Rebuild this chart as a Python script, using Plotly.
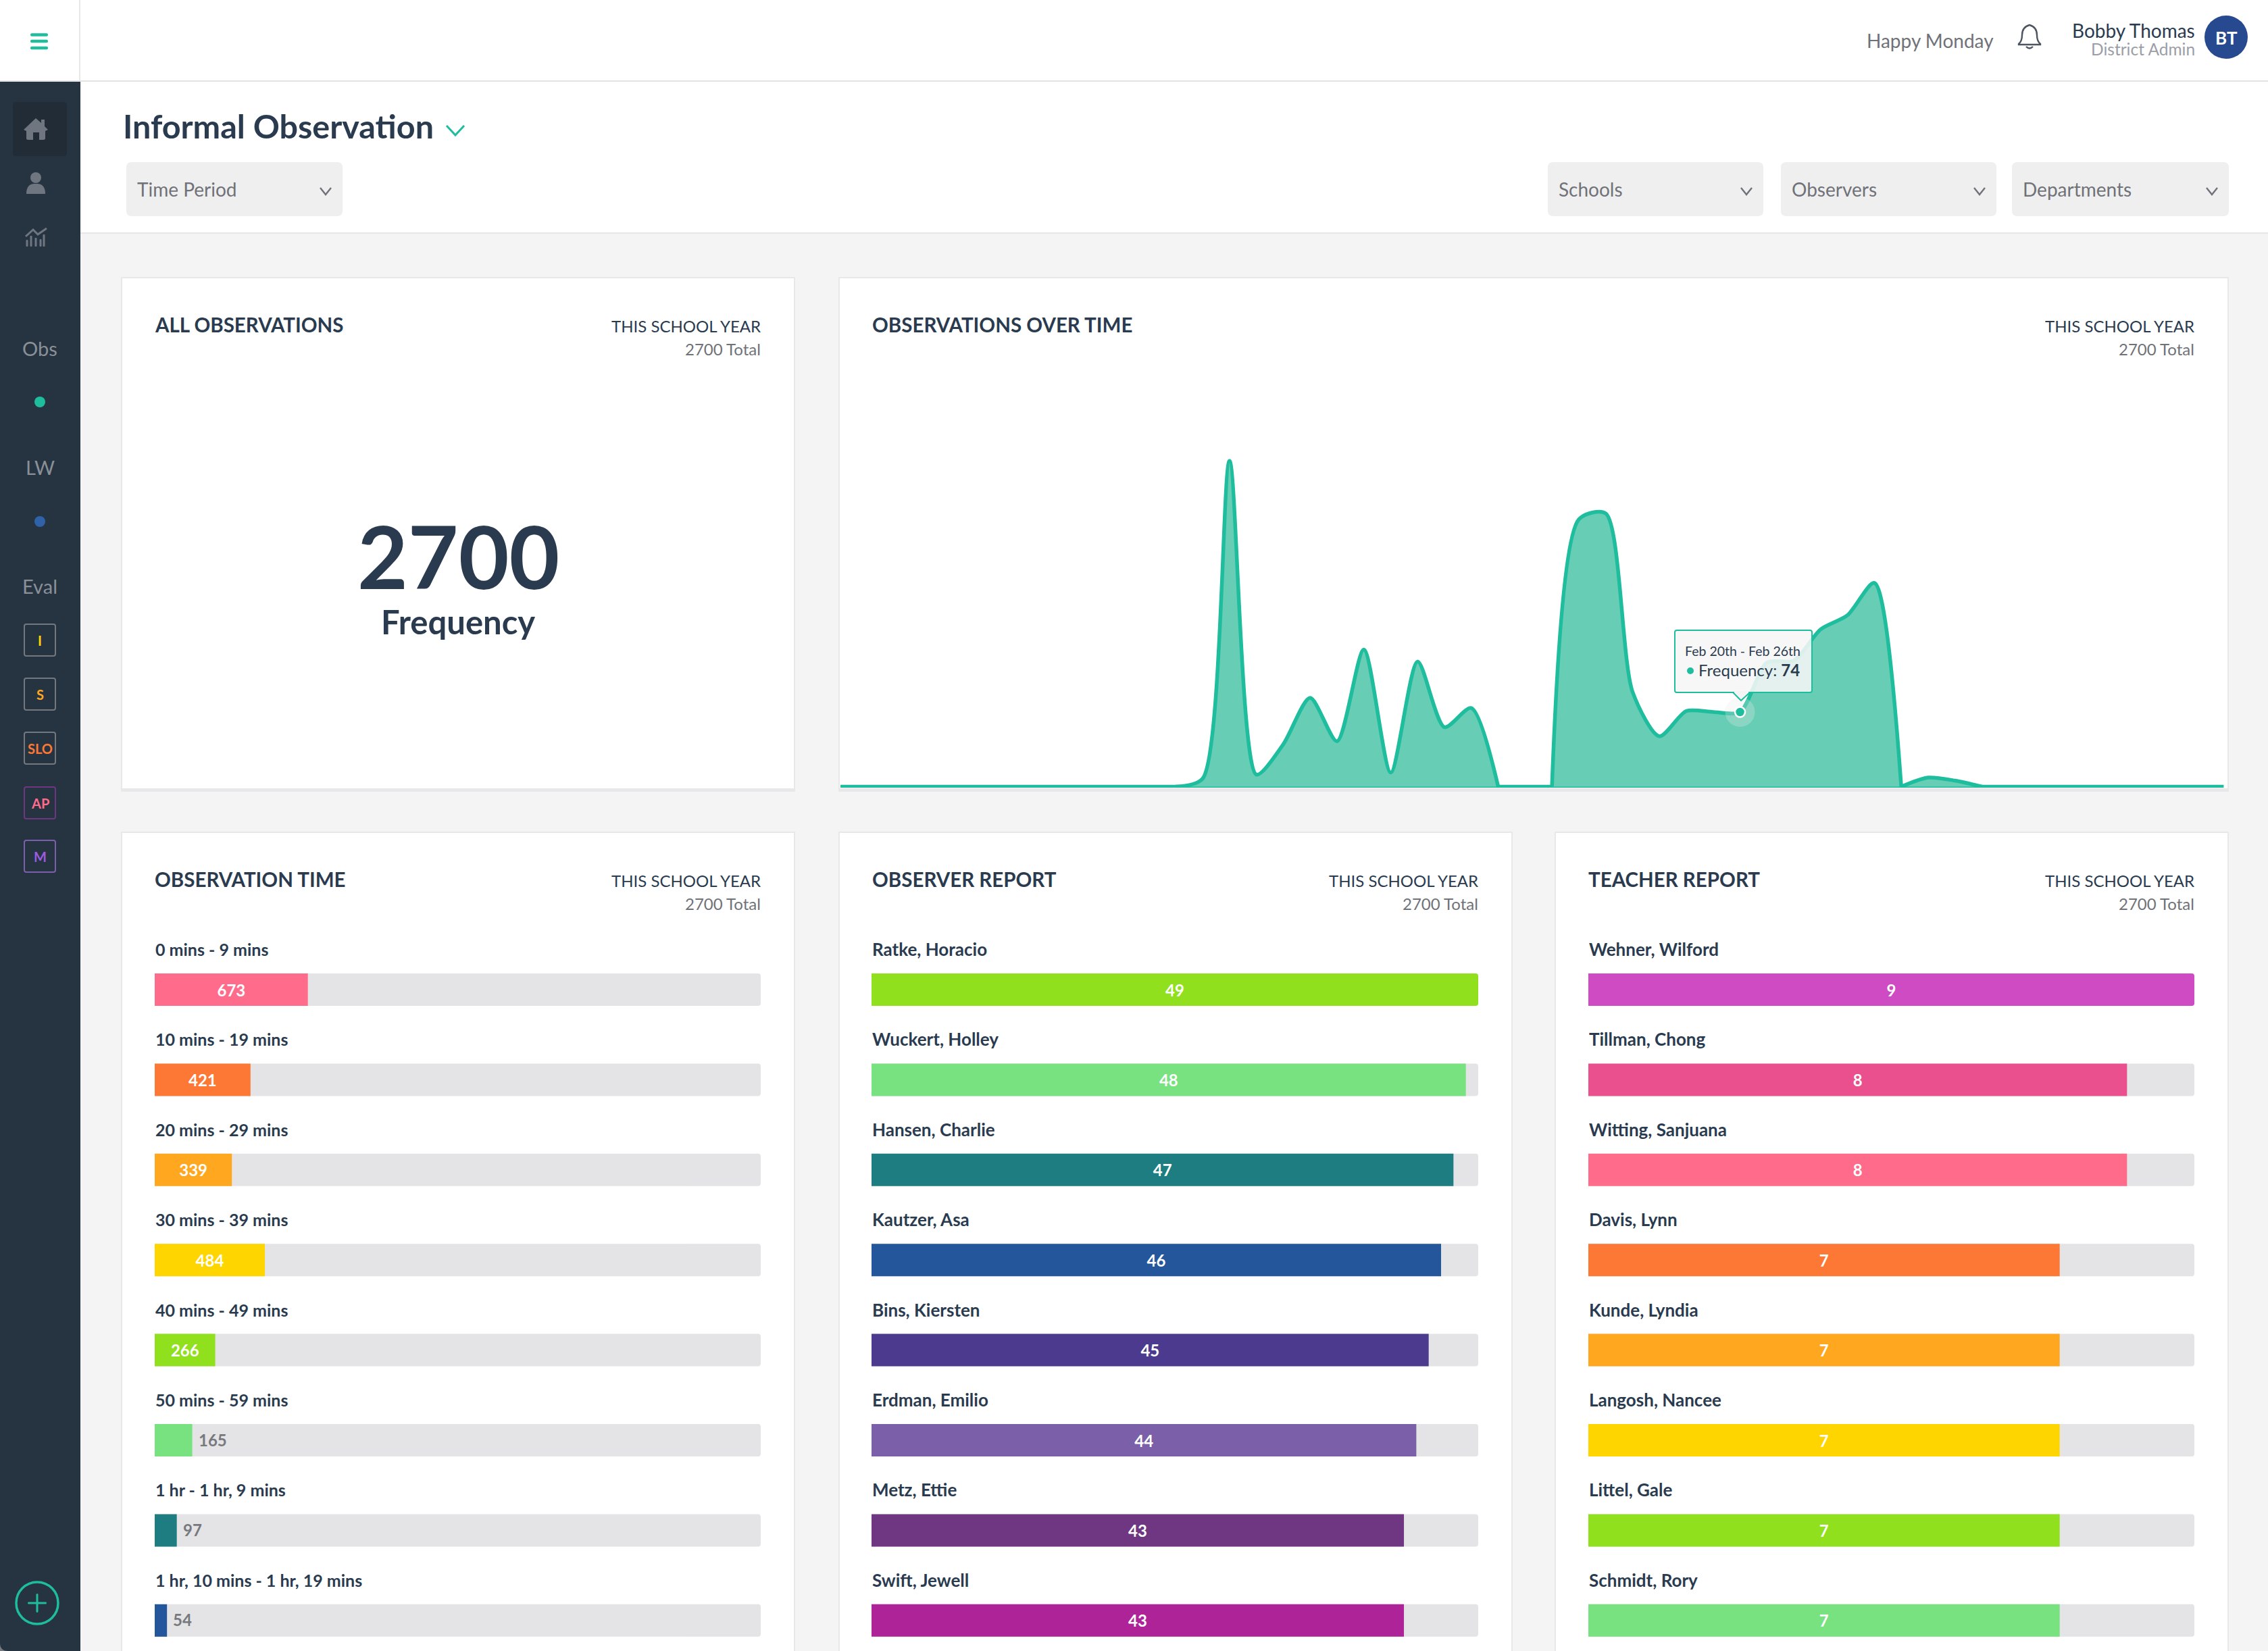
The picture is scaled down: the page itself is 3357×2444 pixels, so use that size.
import plotly.graph_objects as go

W, H = 3357, 2444
FONT = "Lato"

# ---------- data ----------
week_index = list(range(-15, 38))
week_counts = [0, 0, 0, 0, 0, 0, 0, 0, 0, 0, 0, 0, 0, 0, 8, 323, 12, 42, 88, 45, 136, 14, 124, 59, 78,
               0, 0, 0, 265, 271, 94, 50, 75, 74, 74, 123, 125, 156, 170, 202, 0, 9, 6, 0, 0, 0, 0, 0, 0, 0, 0, 0, 0]
highlight_week = [19]
highlight_count = [74]

time_labels = ["0 mins - 9 mins", "10 mins - 19 mins", "20 mins - 29 mins", "30 mins - 39 mins",
               "40 mins - 49 mins", "50 mins - 59 mins", "1 hr - 1 hr, 9 mins", "1 hr, 10 mins - 1 hr, 19 mins"]
time_values = [673, 421, 339, 484, 266, 165, 97, 54]
time_colors = ["#ff6b8b", "#fd7834", "#ffa71f", "#ffd500", "#91e01d", "#77e27f", "#1d7d80", "#23569b"]
time_max = 2663

observer_labels = ["Ratke, Horacio", "Wuckert, Holley", "Hansen, Charlie", "Kautzer, Asa",
                   "Bins, Kiersten", "Erdman, Emilio", "Metz, Ettie", "Swift, Jewell"]
observer_values = [49, 48, 47, 46, 45, 44, 43, 43]
observer_colors = ["#91e01d", "#77e27f", "#1d7d80", "#23569b", "#4c3a8f", "#7b5fa9", "#6f3681", "#ae2498"]
observer_max = 49

teacher_labels = ["Wehner, Wilford", "Tillman, Chong", "Witting, Sanjuana", "Davis, Lynn",
                  "Kunde, Lyndia", "Langosh, Nancee", "Littel, Gale", "Schmidt, Rory"]
teacher_values = [9, 8, 8, 7, 7, 7, 7, 7]
teacher_colors = ["#ce4bc3", "#ea4f8e", "#ff6b8b", "#fd7834", "#ffa71f", "#ffd500", "#91e01d", "#77e27f"]
teacher_max = 9

# ---------- colours ----------
NAVY = "#2a3b4f"
SIDE = "#263442"
GREY = "#6f7278"
TEAL = "#1dbd9d"
TRACK = "#e4e4e6"

shapes, annotations = [], []


def px(x):
    return x / W


def py(y):
    return 1 - y / H


def rect(x0, y0, x1, y1, fill, layer="below", line=None, lw=0):
    shapes.append(dict(type="rect", xref="paper", yref="paper", x0=px(x0), x1=px(x1), y0=py(y1), y1=py(y0),
                       fillcolor=fill, line=dict(color=line or fill, width=lw), layer=layer))


def path(cmds, fill=None, line=None, lw=0, layer="below"):
    """cmds: list of (letter, x, y ...) in page pixels"""
    out = []
    for c in cmds:
        letter, nums = c[0], c[1:]
        pts = []
        for i in range(0, len(nums), 2):
            pts.append(f"{px(nums[i]):.6f},{py(nums[i + 1]):.6f}")
        out.append(letter + " " + " ".join(pts))
    shapes.append(dict(type="path", xref="paper", yref="paper", path=" ".join(out),
                       fillcolor=fill or "rgba(0,0,0,0)",
                       line=dict(color=line or "rgba(0,0,0,0)", width=lw), layer=layer))


def rrect(x0, y0, x1, y1, r, fill=None, line=None, lw=0, layer="below"):
    path([("M", x0 + r, y0), ("L", x1 - r, y0), ("Q", x1, y0, x1, y0 + r), ("L", x1, y1 - r),
          ("Q", x1, y1, x1 - r, y1), ("L", x0 + r, y1), ("Q", x0, y1, x0, y1 - r), ("L", x0, y0 + r),
          ("Q", x0, y0, x0 + r, y0), ("Z",)], fill, line, lw, layer)


def circle(cx, cy, r, fill=None, line=None, lw=0, layer="below"):
    shapes.append(dict(type="circle", xref="paper", yref="paper", x0=px(cx - r), x1=px(cx + r),
                       y0=py(cy + r), y1=py(cy - r), fillcolor=fill or "rgba(0,0,0,0)",
                       line=dict(color=line or "rgba(0,0,0,0)", width=lw), layer=layer))


def text(x, base, s, size, color, anchor="left", weight=400):
    annotations.append(dict(xref="paper", yref="paper", x=px(x), y=py(base - 2 - 0.33 * size), text=s, showarrow=False,
                            xanchor=anchor, yanchor="middle", borderpad=0,
                            font=dict(family=FONT, size=size, color=color, weight=weight)))


def chevron(cx, cy, hw, hh, color, lw):
    path([("M", cx - hw, cy - hh), ("L", cx, cy + hh), ("L", cx + hw, cy - hh)], line=color, lw=lw)


# ---------- page chrome ----------
rect(0, 0, W, 120, "#ffffff")
rect(0, 119, W, 121, "#e3e3e3")
rect(117, 0, 119, 120, "#e8e8e8")
rect(119, 346, W, H, "#f4f4f4")
rect(119, 121, W, 345, "#ffffff")
rect(119, 344, W, 346, "#e6e6e6")
rect(0, 121, 119, H, SIDE)
path([("M", 0, H - 12), ("Q", 0, H, 12, H), ("L", 0, H), ("Z",)], fill="#777a7e")
for yy in (51.5, 61, 71):
    rrect(45, yy - 2.3, 71, yy + 2.3, 2, fill=TEAL)

# sidebar icons
rrect(19, 151, 99, 231, 5, fill="#212c37")
ICON = "#6f7680"
path([("M", 35, 192), ("L", 53, 175), ("L", 61, 182), ("L", 61, 177), ("L", 66, 177), ("L", 66, 187), ("L", 71, 192),
      ("L", 67, 194), ("L", 67, 205), ("Q", 67, 207, 64, 207), ("L", 58, 207), ("L", 58, 196), ("L", 49, 196),
      ("L", 49, 207), ("L", 42, 207), ("Q", 39, 207, 39, 205), ("L", 39, 194), ("Z",)], fill=ICON)
shapes.append(dict(type="circle", xref="paper", yref="paper", x0=px(45), x1=px(61), y0=py(271), y1=py(255),
                   fillcolor=ICON, line=dict(width=0), layer="below"))
path([("M", 39, 287), ("Q", 39, 273, 50, 272), ("L", 56, 272), ("Q", 67, 273, 67, 287), ("Z",)], fill=ICON)
path([("M", 38, 350), ("L", 49, 340), ("L", 56, 347), ("L", 69, 338)], line=ICON, lw=3)
for bx, top in ((40, 355), (46, 349), (53, 352), (60, 354), (65, 347)):
    rrect(bx - 1.5, top, bx + 1.5, 365, 1, fill=ICON)

SIDE_TXT = "#8a9097"
text(59, 527, "Obs", 29, SIDE_TXT, "center")
circle(59, 595, 8, fill=TEAL)
text(59, 703, "LW", 29, SIDE_TXT, "center")
circle(59, 772, 8, fill="#2f62a8")
text(59, 879, "Eval", 29, SIDE_TXT, "center")
for y0, label, tc, bc in ((924, "I", "#ffd500", "#74787d"), (1004, "S", "#ffa71f", "#74787d"),
                          (1084, "SLO", "#fd7834", "#74787d"), (1165, "AP", "#ff6b8b", "#6f3681"),
                          (1244, "M", "#9d5be0", "#7b5fa9")):
    rrect(36, y0, 82, y0 + 47, 3, line=bc, lw=2)
    text(59, y0 + 33, label, 20, tc, "center", 700)
circle(55, 2373, 31, line=TEAL, lw=3.5)
rrect(41, 2371.5, 69, 2374.5, 1.5, fill=TEAL)
rrect(53.5, 2359, 56.5, 2387, 1.5, fill=TEAL)

# header right
text(2762, 71, "Happy Monday", 28, GREY)
path([("M", 3004, 37), ("Q", 3015, 40, 3015, 52), ("Q", 3015, 61, 3020, 65), ("L", 3020, 66), ("L", 2988, 66),
      ("L", 2988, 65), ("Q", 2993, 61, 2993, 52), ("Q", 2993, 40, 3004, 37), ("Z",)], line="#4d5560", lw=2.4)
path([("M", 2999, 69), ("Q", 3004, 74, 3009, 69)], line="#4d5560", lw=2.4)
text(3250, 56, "Bobby Thomas", 28, NAVY, "right")
text(3250, 83, "District Admin", 24.5, "#9b9ea6", "right")
circle(3295, 55, 32, fill="#26498f")
text(3295, 67, "BT", 26, "#ffffff", "center", 700)

# title and filters
text(181, 204, "Informal Observation", 48.5, NAVY, weight=700)
chevron(674, 193, 13, 7, TEAL, 3)
for x0, x1, label in ((187, 507, "Time Period"), (2291, 2610, "Schools"), (2636, 2955, "Observers"),
                      (2978, 3299, "Departments")):
    rrect(x0, 240, x1, 320, 8, fill="#efefef")
    text(x0 + 15, 291, label, 28, GREY)
    chevron(x1 - 25, 283, 8, 5, GREY, 2.4)


# ---------- cards ----------
def card(x0, y0, x1, y1, title):
    rect(x0 - 2, y0 - 2, x1 + 2, y1 + 5, "#e8e8ea")
    rect(x0, y0, x1, y1, "#ffffff")
    text(x0 + 47, y0 + 80, title, 29.5, NAVY, weight=700)
    text(x1 - 48, y0 + 80, "THIS SCHOOL YEAR", 24, NAVY, "right")
    text(x1 - 48, y0 + 114, "2700 Total", 24, GREY, "right")


card(181, 412, 1175, 1167, "ALL OBSERVATIONS")
card(1243, 412, 3297, 1167, "OBSERVATIONS OVER TIME")
card(181, 1233, 1175, H + 40, "OBSERVATION TIME")
card(1243, 1233, 2237, H + 40, "OBSERVER REPORT")
card(2303, 1233, 3297, H + 40, "TEACHER REPORT")
text(678, 867, "2700", 129, NAVY, "center", 700)
text(678, 938, "Frequency", 49, NAVY, "center", 700)

fig = go.Figure()


# ---------- area chart ----------
def hump_spans(counts):
    """index ranges that hold non-zero weeks, each with the zero week on either side"""
    spans, start = [], None
    for i, v in enumerate(counts):
        if v and start is None:
            start = i - 1
        elif not v and start is not None:
            spans.append((start, i))
            start = None
    return spans


AX0, AX1, AT, AB = 1244, 3295, 600, 1166
fig.add_trace(go.Scatter(x=week_index, y=[0] * len(week_index), mode="lines", line=dict(color=TEAL, width=5.5),
                         xaxis="x", yaxis="y", hoverinfo="skip", showlegend=False))
for a, b in hump_spans(week_counts):
    fig.add_trace(go.Scatter(x=week_index[a:b + 1], y=week_counts[a:b + 1], mode="lines", fill="tozeroy",
                             fillcolor="#67cdb4", line=dict(color=TEAL, width=5.5, shape="spline", smoothing=0.75),
                             xaxis="x", yaxis="y", hoverinfo="skip", showlegend=False))
fig.add_trace(go.Scatter(x=highlight_week, y=highlight_count, mode="markers",
                         marker=dict(size=44, color="rgba(232,232,232,0.28)", line=dict(width=0)),
                         xaxis="x", yaxis="y", hoverinfo="skip", showlegend=False))
fig.add_trace(go.Scatter(x=highlight_week, y=highlight_count, mode="markers",
                         marker=dict(size=15, color=TEAL, line=dict(color="#ffffff", width=2.5)),
                         xaxis="x", yaxis="y", hoverinfo="skip", showlegend=False))

layout_axes = dict(
    xaxis=dict(domain=[px(AX0), px(AX1)], range=[-14.48, 37.09], visible=False, fixedrange=True),
    yaxis=dict(domain=[py(AB), py(AT)], range=[-1, (1164.5 - AT) / 1.493], visible=False, fixedrange=True),
)

# tooltip
rrect(2479, 933, 2682, 1025, 3, fill="rgba(246,246,246,0.88)", line=TEAL, lw=2, layer="above")
path([("M", 2565, 1025), ("L", 2577, 1037), ("L", 2590, 1025), ("Z",)], fill="#f4f4f4", line=TEAL, lw=2, layer="above")
rect(2567, 1023, 2588, 1026, "#f4f4f4", layer="above")
text(2579, 972, "Feb 20th - Feb 26th", 19.5, NAVY, "center")
circle(2502, 993, 5, fill=TEAL, layer="above")
text(2513, 1001, "Frequency: <b>74</b>", 24, NAVY)


# ---------- bar panels ----------
ROW = 133.4
BAR_H = 48
FIRST_C = 1465


def panel(n, x0, x1, labels, values, colors, vmax, label_size):
    xa, ya = f"x{n}", f"y{n}"
    width = x1 - x0
    inside = [v / vmax * width >= 70 for v in values]
    fig.add_trace(go.Bar(y=labels, x=[vmax] * len(labels), orientation="h", marker=dict(color=TRACK, line=dict(width=0)),
                         width=BAR_H / ROW, xaxis=xa, yaxis=ya, hoverinfo="skip", showlegend=False))
    fig.add_trace(go.Bar(y=labels, x=values, orientation="h", marker=dict(color=colors, line=dict(width=0)),
                         width=BAR_H / ROW, xaxis=xa, yaxis=ya, hoverinfo="skip", showlegend=False,
                         text=[str(v) if ok else "" for v, ok in zip(values, inside)],
                         textposition="inside", insidetextanchor="middle", textangle=0, constraintext="none",
                         insidetextfont=dict(family=FONT, size=24, color="#ffffff", weight=700)))
    layout_axes[f"xaxis{n}"] = dict(domain=[px(x0), px(x1)], range=[0, vmax], visible=False, fixedrange=True, anchor=ya)
    bottom = (H - FIRST_C) / ROW
    layout_axes[f"yaxis{n}"] = dict(domain=[0, py(FIRST_C - ROW / 2)], range=[bottom, -0.5], type="category",
                                    categoryorder="array", categoryarray=labels,
                                    visible=False, fixedrange=True, anchor=xa)
    for lab, val, ok in zip(labels, values, inside):
        annotations.append(dict(xref=xa, yref=ya, x=0, y=lab, text=lab, showarrow=False, xanchor="left",
                                yanchor="middle", yshift=60, borderpad=0,
                                font=dict(family=FONT, size=label_size, color=NAVY, weight=700)))
        if not ok:
            annotations.append(dict(xref=xa, yref=ya, x=val, y=lab, text=str(val), showarrow=False, xanchor="left",
                                    yanchor="middle", xshift=8, yshift=1, borderpad=0,
                                    font=dict(family=FONT, size=24, color="#77797e", weight=700)))


panel(2, 229, 1126, time_labels, time_values, time_colors, time_max, 25)
panel(3, 1290, 2188, observer_labels, observer_values, observer_colors, observer_max, 26)
panel(4, 2351, 3248, teacher_labels, teacher_values, teacher_colors, teacher_max, 26)

fig.update_layout(width=W, height=H, margin=dict(l=0, r=0, t=0, b=0, pad=0), autosize=False,
                  paper_bgcolor="#f4f4f4", plot_bgcolor="rgba(0,0,0,0)", barmode="overlay", barcornerradius=4,
                  font=dict(family=FONT), showlegend=False, hovermode=False,
                  shapes=shapes, annotations=annotations, **layout_axes)

fig.write_html("out.html", config={"displayModeBar": False},
               post_script="document.body.style.margin='0';document.body.style.overflow='hidden';")
